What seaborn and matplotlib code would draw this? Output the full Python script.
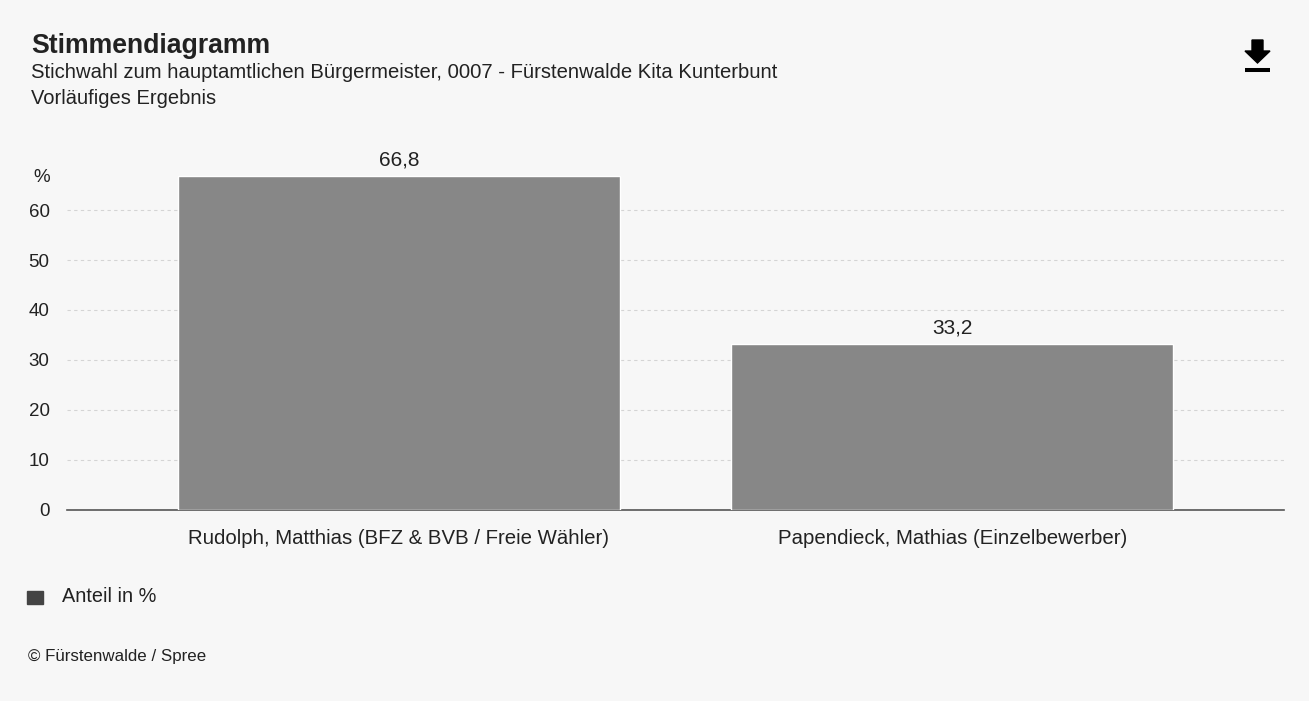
import matplotlib
matplotlib.use("Agg")
import matplotlib.pyplot as plt
import matplotlib.patches as mpatches
import seaborn as sns
import pandas as pd

# ---------------------------
# DATA
# ---------------------------
candidates = [
    "Rudolph, Matthias (BFZ & BVB / Freie Wähler)",
    "Papendieck, Mathias (Einzelbewerber)",
]
shares = [66.8, 33.2]
yticks = [0, 10, 20, 30, 40, 50, 60]

df = pd.DataFrame({"Kandidat": candidates, "Anteil": shares})

# ---------------------------
# STYLE
# ---------------------------
sns.set_style("white")
plt.rcParams["font.family"] = ["Liberation Sans", "DejaVu Sans"]
bg = "#f7f7f7"
txt = "#222222"

fig = plt.figure(figsize=(13.09, 7.01), dpi=100, facecolor=bg)
ax = fig.add_axes([0.0512, 0.2725, 0.9298, 0.5135])
ax.set_facecolor(bg)

sns.barplot(data=df, x="Kandidat", y="Anteil", color="#878787",
            width=0.8, saturation=1, ax=ax, zorder=3)

ax.set_xlim(-0.6, 1.6)
ax.set_ylim(0, 72)
ax.set_yticks(yticks)
ax.set_yticklabels([str(t) for t in yticks])
ax.set_xlabel("")
ax.set_ylabel("")

ax.yaxis.grid(True, linestyle=(0, (3, 3)), color="#d4d4d4", linewidth=0.8, zorder=0)
ax.xaxis.grid(False)
for s in ["top", "right", "left"]:
    ax.spines[s].set_visible(False)
ax.spines["bottom"].set_color("#555555")
ax.spines["bottom"].set_linewidth(1.2)
ax.tick_params(axis="y", length=0, pad=12.5, labelsize=13.5, labelcolor=txt)
ax.tick_params(axis="x", length=0, pad=14, labelsize=14.7, labelcolor=txt)

# value labels
for p, v in zip(ax.patches, shares):
    ax.text(p.get_x() + p.get_width() / 2, v + 1.3, f"{v:.1f}".replace(".", ","),
            ha="center", va="bottom", fontsize=15, color=txt)

fig.text(50 / 1309, 1 - 178 / 701, "%", ha="right", va="center", fontsize=13.5, color=txt)

# ---------------------------
# TITLES
# ---------------------------
fig.text(31 / 1309, 1 - 46 / 701, "Stimmendiagramm", fontsize=19.2, fontweight="bold",
         color=txt, va="center")
fig.text(31 / 1309, 1 - 73 / 701,
         "Stichwahl zum hauptamtlichen Bürgermeister, 0007 - Fürstenwalde Kita Kunterbunt",
         fontsize=14.6, color=txt, va="center")
fig.text(31 / 1309, 1 - 98 / 701, "Vorläufiges Ergebnis", fontsize=14.5, color=txt,
         va="center")

# download icon
arrow = mpatches.FancyArrow(1257.5 / 1309, 1 - 40 / 701, 0, -23 / 701, width=11 / 1309,
                            head_width=25 / 1309, head_length=12 / 701,
                            length_includes_head=True, color="black",
                            transform=fig.transFigure)
fig.patches.append(arrow)
fig.add_artist(plt.Line2D([1245 / 1309, 1270 / 1309], [1 - 70 / 701, 1 - 70 / 701],
                          color="black", linewidth=2.9, solid_capstyle="butt",
                          transform=fig.transFigure))

# ---------------------------
# LEGEND + FOOTER
# ---------------------------
fig.patches.append(mpatches.Rectangle((27 / 1309, 1 - 604 / 701), 16 / 1309, 13 / 701,
                                      color="#444444", transform=fig.transFigure))
fig.text(62 / 1309, 1 - 597 / 701, "Anteil in %", fontsize=14.3, color=txt, va="center")
fig.text(28 / 1309, 1 - 656 / 701, "© Fürstenwalde / Spree", fontsize=12.2, color=txt,
         va="center")

fig.savefig("out.png", dpi=100, facecolor=bg)
